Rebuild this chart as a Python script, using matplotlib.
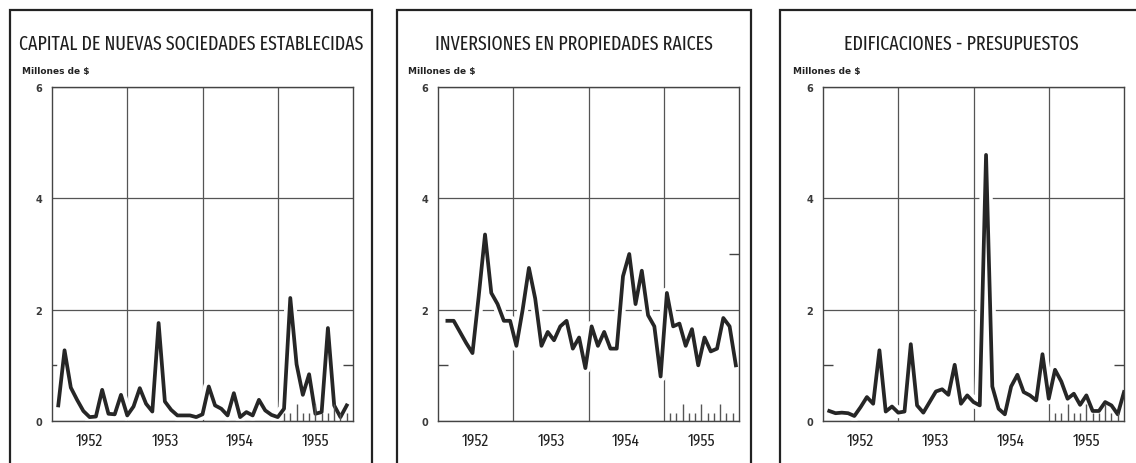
import numpy as np
import matplotlib
matplotlib.use("Agg")
import matplotlib.pyplot as plt
import matplotlib.patheffects as pe
from matplotlib.patches import Rectangle

plt.rcParams['font.family'] = ['Fira Sans Extra Condensed', 'DejaVu Sans']

# Titulos y etiquetas
titulos = ["CAPITAL DE NUEVAS SOCIEDADES ESTABLECIDAS",
           "INVERSIONES EN PROPIEDADES RAICES",
           "EDIFICACIONES - PRESUPUESTOS"]
anios = ["1952", "1953", "1954", "1955"]
unidad = "Millones de $"

# Valores mensuales (millones de $)
capital = [0.28, 1.27, 0.60, 0.38, 0.18, 0.07, 0.08, 0.56, 0.13, 0.12,
           0.47, 0.10, 0.26, 0.59, 0.31, 0.17, 1.76, 0.35, 0.20, 0.10,
           0.10, 0.10, 0.07, 0.12, 0.62, 0.28, 0.22, 0.10, 0.50, 0.07,
           0.16, 0.10, 0.38, 0.19, 0.11, 0.07, 0.22, 2.21, 1.02, 0.47,
           0.84, 0.13, 0.16, 1.67, 0.28, 0.07, 0.28]

inversiones = [1.80, 1.80, 1.60, 1.40, 1.22, 2.25, 3.35, 2.30, 2.10, 1.80,
               1.80, 1.35, 2.00, 2.75, 2.20, 1.35, 1.60, 1.45, 1.70, 1.80,
               1.30, 1.50, 0.95, 1.70, 1.35, 1.60, 1.30, 1.30, 2.60, 3.00,
               2.10, 2.70, 1.90, 1.70, 0.80, 2.30, 1.70, 1.75, 1.35, 1.65,
               1.00, 1.50, 1.25, 1.30, 1.85, 1.70, 1.00]

edificaciones = [0.18, 0.14, 0.15, 0.14, 0.09, 0.25, 0.43, 0.31, 1.27, 0.17,
                 0.26, 0.15, 0.17, 1.38, 0.28, 0.15, 0.34, 0.53, 0.57, 0.47,
                 1.01, 0.31, 0.46, 0.34, 0.28, 4.78, 0.62, 0.22, 0.12, 0.62,
                 0.83, 0.52, 0.46, 0.37, 1.20, 0.40, 0.92, 0.71, 0.40, 0.49,
                 0.29, 0.46, 0.18, 0.18, 0.34, 0.28, 0.12, 0.52]

series = [capital, inversiones, edificaciones]
primer_mes = [1.0, 1.5, 1.0]      # mes (desde ene 1952) del primer dato
marca_derecha = [1, 3, 1]         # pequena marca en el borde derecho

W, H = 1136, 464
fig = plt.figure(figsize=(W / 100, H / 100), dpi=100)

# posiciones en pixeles de cada panel
marco_izq = [10, 397, 780]
marco_ancho = [362, 354, 362]
ejes_izq = [52, 438, 823]

for i in range(3):
    # marco exterior del panel (se corta abajo)
    fig.patches.append(Rectangle((marco_izq[i] / W, -0.1), marco_ancho[i] / W,
                                 (H - 11) / H + 0.1, transform=fig.transFigure,
                                 fill=False, lw=1.6, ec="#222222"))
    fig.text((marco_izq[i] + marco_ancho[i] / 2) / W, 1 - 44 / H, titulos[i],
             ha="center", va="center", fontsize=14, color="#1e1e1e")

    ax = fig.add_axes([ejes_izq[i] / W, 42 / H, 301 / W, 334 / H])
    vals = np.array(series[i])
    meses = np.arange(len(vals)) + primer_mes[i]

    ax.plot(meses, vals, color="#262626", lw=2.7, solid_joinstyle="round",
            path_effects=[pe.Stroke(linewidth=8, foreground="white"), pe.Normal()])

    # marcas mensuales de 1955
    m55 = np.arange(37, 48)
    alto = np.where((m55 - 36) % 3 == 0, 0.05, 0.024)
    ax.vlines(m55, 0, alto, transform=ax.get_xaxis_transform(), color="#555555",
              lw=1.0, zorder=2.2)

    ax.set_xlim(0, 48)
    ax.set_ylim(0, 6)
    ax.set_yticks([0, 2, 4, 6])
    ax.set_yticklabels(["0", "2", "4", "6"], family="DejaVu Sans", fontsize=7,
                       fontweight="semibold", color="#3a3a3a")
    ax.set_yticks([1], minor=True)
    ax.set_xticks([12, 24, 36])
    ax.set_xticklabels([])
    ax.set_xticks([6, 18, 30, 42], minor=True)
    ax.set_xticklabels(anios, minor=True, fontsize=12, color="#222222")
    ax.tick_params(axis="both", which="major", length=0, pad=7)
    ax.tick_params(axis="x", which="minor", length=0, pad=8)
    ax.tick_params(axis="y", which="minor", direction="in", length=7,
                   width=1, color="#444444")
    ax.grid(True, which="major", color="#555555", lw=0.9)
    ax.set_axisbelow(True)
    for s in ax.spines.values():
        s.set_color("#444444")
        s.set_linewidth(1.0)

    der = ax.secondary_yaxis("right")
    der.set_yticks([marca_derecha[i]])
    der.tick_params(direction="in", length=7, width=1, color="#444444",
                    labelright=False)
    der.spines["right"].set_visible(False)

    ax.text(-0.1, 1.05, unidad, transform=ax.transAxes, ha="left", va="center",
            family="DejaVu Sans", fontsize=6.5, fontweight="bold", color="#222222")

fig.savefig("out.png", dpi=100, facecolor="white")
